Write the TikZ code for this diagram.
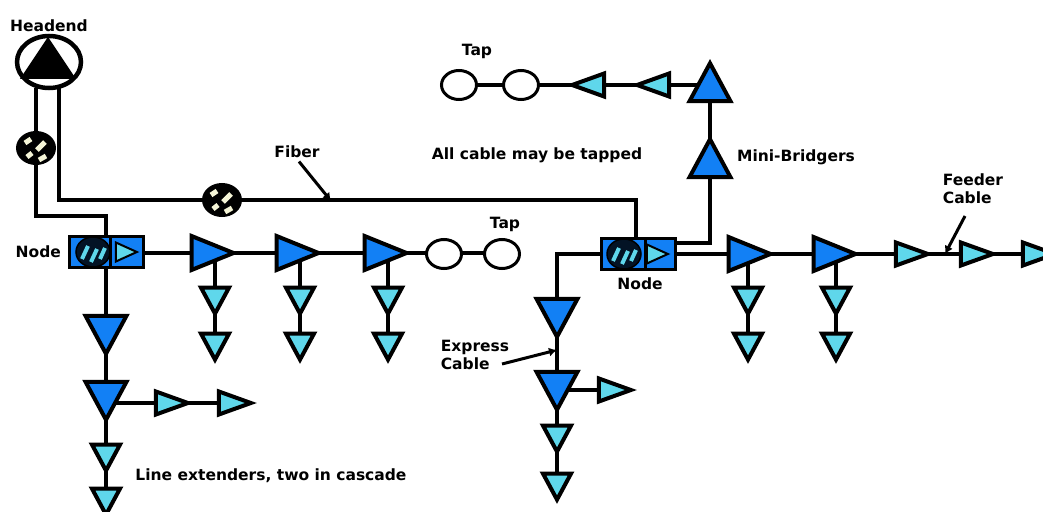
\documentclass[tikz,border=0pt]{standalone}
\usepackage{fontspec}
\setmainfont{DejaVu Sans}
\usepackage{tikz}
\usetikzlibrary{positioning, shapes.geometric, arrows.meta, calc, backgrounds}
\definecolor{ampblue}{RGB}{18,128,245}
\definecolor{lineext}{RGB}{95,215,235}
\definecolor{spot}{RGB}{245,245,215}

\begin{document}
\begin{tikzpicture}[
	x=1pt, y=-1pt,
	every node/.style={font=\fontsize{15.5}{18}\selectfont\bfseries, align=left},
	tri/.style={isosceles triangle, isosceles triangle stretches, draw=black, line width=4pt, line join=miter, inner sep=0pt, outer sep=0pt},
	bigflat/.style={tri, fill=ampblue, minimum width=34pt, minimum height=42pt},
	bigtall/.style={tri, fill=ampblue, minimum width=41pt, minimum height=38pt},
	smallflat/.style={tri, fill=lineext, minimum width=23pt, minimum height=32pt},
	smalltall/.style={tri, fill=lineext, minimum width=28pt, minimum height=26pt},
	boxamp/.style={tri, fill=lineext, line width=2pt, minimum width=19pt, minimum height=21pt},
	tap/.style={ellipse, draw=black, line width=3pt, fill=white, minimum width=35pt, minimum height=29pt, inner sep=0pt, outer sep=0pt},
	splice/.style={ellipse, draw=black, fill=black, line width=2pt, minimum width=38pt, minimum height=32pt, inner sep=0pt,
		path picture={\draw[spot, line width=5pt] ($(path picture bounding box.center)+(-11,-5)$) -- ++(6,-4) ($(path picture bounding box.center)+(1,2)$) -- ++(8,-8) ($(path picture bounding box.center)+(-9,9)$) -- ++(5,-4) ($(path picture bounding box.center)+(3,12)$) -- ++(7,-4);}},
	hatch/.style={ellipse, draw=black, fill=black!85!ampblue, line width=1.5pt, minimum width=34pt, minimum height=30pt, inner sep=0pt,
		path picture={\draw[lineext, line width=4pt] ($(path picture bounding box.center)+(-11,7)$) -- ++(6,-13) ($(path picture bounding box.center)+(-2,10)$) -- ++(6,-13) ($(path picture bounding box.center)+(7,7)$) -- ++(5,-11);}},
	nodebox/.style={rectangle, draw=black, fill=ampblue, line width=3pt, minimum height=31pt, inner sep=0pt, outer sep=0pt},
	cable/.style={line width=4pt, line join=miter},
	pointer/.style={line width=3pt, -{Latex[length=8pt,width=9pt]}}
	]
	\useasboundingbox (0,0) rectangle (1043,511);

	% Headend
	\node[ellipse, draw=black, fill=white, line width=4.5pt, minimum width=64pt, minimum height=52pt, inner sep=0pt, outer sep=0pt] (headend) at (49,62) {};
	\node[isosceles triangle, isosceles triangle stretches, shape border rotate=90, fill=black, minimum width=56pt, minimum height=42pt, inner sep=0pt] (headtri) at (48,64) {};
	\node[above=1pt of headend] (headendlabel) {Headend};

	% Fiber splices
	\node[splice] (splicea) at (36,148) {};
	\node[splice] (spliceb) at (222,200) {};

	% Nodes
	\node[nodebox, minimum width=41pt] (nodeal) at (90,252) {};
	\node[nodebox, minimum width=33pt, right=0pt of nodeal] (nodear) {};
	\node[hatch] (hatcha) at (93,252) {};
	\node[boxamp] (nodeampa) at (122,252) {};
	\node[nodebox, minimum width=44pt] (nodebl) at (623,254) {};
	\node[nodebox, minimum width=30pt, right=0pt of nodebl] (nodebr) {};
	\node[hatch] (hatchb) at (624,254) {};
	\node[boxamp] (nodeampb) at (653,254) {};
	\node[left=5pt of nodeal] (nodealabel) {Node};
	\node[below=5pt of nodebl, xshift=17pt] (nodeblabel) {Node};

	% Left feeder
	\node[bigflat] (ampa) at (203,253) {};
	\node[bigflat] (ampb) at (288,253) {};
	\node[bigflat] (ampc) at (376,253) {};
	\node[tap] (tapa) at (444,254) {};
	\node[tap] (tapb) at (502,254) {};
	\foreach \n/\x in {a/215, b/300, c/388} {
		\node[smalltall, shape border rotate=270] (ext\n one) at (\x,296) {};
		\node[smalltall, shape border rotate=270] (ext\n two) at (\x,342) {};
	}

	% Left express
	\node[bigtall, shape border rotate=270] (downa) at (106,328) {};
	\node[bigtall, shape border rotate=270] (downb) at (106,394) {};
	\node[smalltall, shape border rotate=270] (downc) at (106,453) {};
	\node[smalltall, shape border rotate=270] (downd) at (106,497) {};
	\node[smallflat] (brancha) at (164,403) {};
	\node[smallflat] (branchb) at (227,403) {};

	% Right express
	\node[bigtall, shape border rotate=270] (expa) at (557,311) {};
	\node[bigtall, shape border rotate=270] (expb) at (557,384) {};
	\node[smalltall, shape border rotate=270] (expc) at (557,434) {};
	\node[smalltall, shape border rotate=270] (expd) at (557,482) {};
	\node[smallflat] (expbranch) at (607,390) {};
	\coordinate (expcorner) at (557,254);

	% Mini-bridgers and upper tap
	\node[bigtall, shape border rotate=90] (bridgera) at (710,165) {};
	\node[bigtall, shape border rotate=90] (bridgerb) at (710,89) {};
	\node[smallflat, shape border rotate=180] (upa) at (661,85) {};
	\node[smallflat, shape border rotate=180] (upb) at (596,85) {};
	\node[tap] (uptapa) at (521,85) {};
	\node[tap] (uptapb) at (459,85) {};

	% Right feeder
	\node[bigflat] (ampd) at (740,254) {};
	\node[bigflat] (ampe) at (825,254) {};
	\node[smallflat] (ampf) at (904,254) {};
	\node[smallflat] (ampg) at (969,254) {};
	\node[smallflat] (amph) at (1031,254) {};
	\foreach \n/\x in {d/748, e/836} {
		\node[smalltall, shape border rotate=270] (ext\n one) at (\x,296) {};
		\node[smalltall, shape border rotate=270] (ext\n two) at (\x,342) {};
	}

	% Cables
	\begin{scope}[on background layer]
		\draw[cable] (36,88) -- (splicea.center) |- (106,216) -- (downa |- nodeal.north);
		\draw[cable] (59,88) |- (spliceb.center);
		\draw[cable] (spliceb.center) -- (636,200) -- (636,238);
		\draw[cable] (nodear |- ampa) -- (ampa.center) -- (ampb.center) -- (ampc.center) -- (tapa |- ampc) -- (tapb |- ampc);
		\draw[cable] (nodeal.south -| downa) -- (downa.center) -- (downb.center) -- (downc.center) -- (downd.center);
		\draw[cable] (downb |- brancha) -- (brancha.center) -- (branchb.center);
		\draw[cable] (nodebl.center) -- (expcorner) -- (expa.center) -- (expb.center) -- (expc.center) -- (expd.center);
		\draw[cable] (expb |- expbranch) -- (expbranch.center);
		\draw[cable] (nodebr.center |- 0,243) -| (bridgera.center);
		\draw[cable] (bridgera.center) -- (bridgerb.center) |- (upa.center) -- (upb.center) -- (uptapa.center) -- (uptapb.center);
		\draw[cable] (nodebr.center) -- (ampd.center) -- (ampe.center) -- (ampf.center) -- (ampg.center) -- (amph.center);
		\foreach \n in {a,b,c,d,e} {
			\draw[cable] (ext\n one |- amp\n) -- (ext\n one.center) -- (ext\n two.center);
		}
	\end{scope}

	% Labels
	\node (fiberlabel) at (297,152) {Fiber};
	\coordinate (fibertip) at (331,201);
	\draw[pointer] (fiberlabel.south) ++(2,0) -- (fibertip);
	\node (allcable) at (537,155) {All cable may be tapped};
	\node (uptaplabel) at (477,51) {Tap};
	\node (taplabel) at (505,224) {Tap};
	\node (minilabel) at (796,157) {Mini-Bridgers};
	\node (feederlabel) at (973,189) {Feeder\\Cable};
	\coordinate (feedertip) at (945,254);
	\draw[pointer] (965,216) -- (feedertip);
	\node (expresslabel) at (475,355) {Express\\Cable};
	\coordinate (expresstip) at (557,350);
	\draw[pointer] (502,364) -- (expresstip);
	\node (extlabel) at (271,476) {Line extenders, two in cascade};

\end{tikzpicture}
\end{document}
